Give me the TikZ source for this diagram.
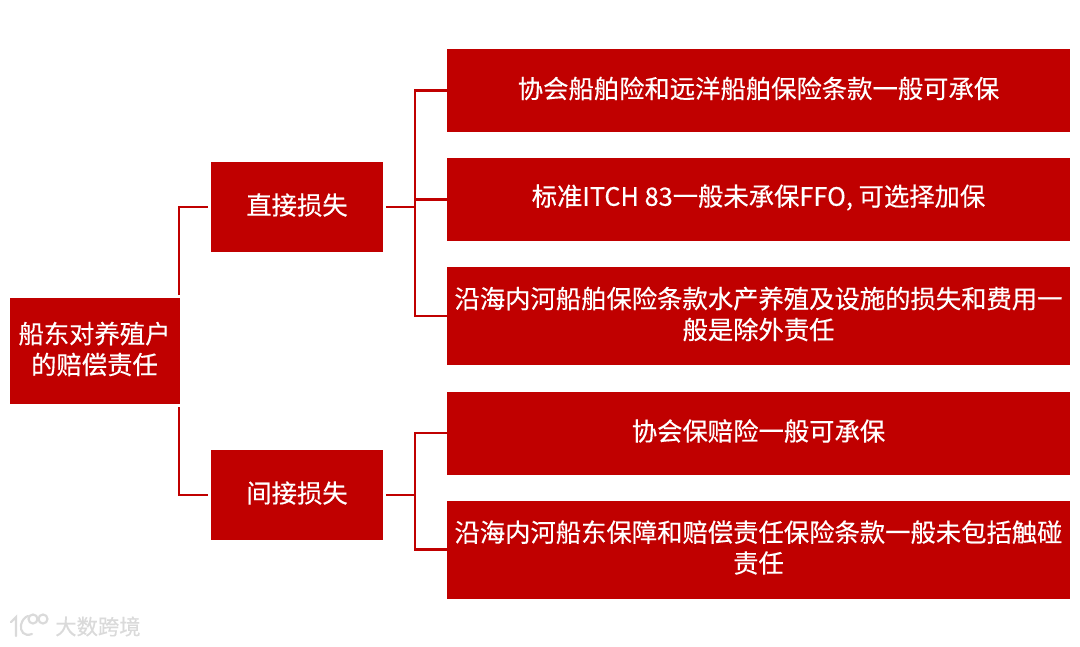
\documentclass[tikz,border=0pt]{standalone}
\usepackage{fontspec}
\setmainfont{Noto Sans CJK SC}
\definecolor{bx}{RGB}{192,0,0}
\definecolor{wm}{RGB}{218,218,218}
\newcommand{\upt}[1]{\raisebox{1.5pt}[\height][\depth]{\shortstack{#1}}}
\tikzset{
 bx/.style={fill=bx,draw=none,text=white,align=center,inner sep=0pt,font=\fontsize{19pt}{22.5pt}\selectfont\addfontfeature{FakeBold=0.35}},
 ln/.style={draw=bx,line width=1.9pt},
 logo/.style={draw=wm,line width=1.6pt,line cap=round},
}
\begin{document}
\begin{tikzpicture}[x=0.75pt,y=-0.75pt]
\useasboundingbox[fill=white] (0,0) rectangle (1080,646);
\node[bx,minimum width=127.5pt,minimum height=79.5pt] (root) at (94.5,351) {\upt{船东对养殖户\\[2.5pt]的赔偿责任}};
\node[bx,minimum width=129pt,minimum height=67.5pt] (d) at (297,207) {\upt{直接损失}};
\node[bx,minimum width=129pt,minimum height=67.5pt] (j) at (297,495) {\upt{间接损失}};
\node[bx,minimum width=467.25pt,minimum height=62.25pt] (a1) at (758.5,90.5) {\upt{协会船舶险和远洋船舶保险条款一般可承保}};
\node[bx,minimum width=467.25pt,minimum height=62.25pt] (a2) at (758.5,199.5) {\upt{标准ITCH 83一般未承保FFO, 可选择加保}};
\node[bx,minimum width=467.25pt,minimum height=73.5pt] (a3) at (758.5,316) {\upt{沿海内河船舶保险条款水产养殖及设施的损失和费用一\\[2.5pt]般是除外责任}};
\node[bx,minimum width=467.25pt,minimum height=62.25pt] (b1) at (758.5,433) {\upt{协会保赔险一般可承保}};
\node[bx,minimum width=467.25pt,minimum height=73.5pt] (b2) at (758.5,549.5) {\upt{沿海内河船东保障和赔偿责任保险条款一般未包括触碰\\[2.5pt]责任}};
\coordinate (t) at (179,295);
\coordinate (u) at (179,407);
\draw[ln] (t) |- ([xshift=-2pt]d.west);
\draw[ln] (u) |- ([xshift=-2pt]j.west);
\coordinate (dm) at (415,207);
\coordinate (jm) at (415,495);
\draw[ln] ([xshift=2pt]d.east) -- (dm);
\draw[ln] ([xshift=2pt]j.east) -- (jm);
\draw[ln] (a1.west) -| (dm) |- (a3.west);
\draw[ln] (dm) |- (a2.west);
\draw[ln] (b1.west) -| (jm) |- (b2.west);
\node[text=wm,font=\fontsize{16pt}{18pt}\selectfont\addfontfeature{FakeBold=0.3},anchor=west,inner sep=0pt] (w) at (55,626.5) {大数跨境};
\draw[logo] (11,622) -- (16,617) -- (16,636);
\draw[logo] (32,634) .. controls (24,637) and (20,631) .. (21,625) .. controls (22,620) and (25,617) .. (28,616);
\draw[logo] (33,619) circle[radius=4.5];
\draw[logo] (43,619) circle[radius=4.5];
\end{tikzpicture}
\end{document}
